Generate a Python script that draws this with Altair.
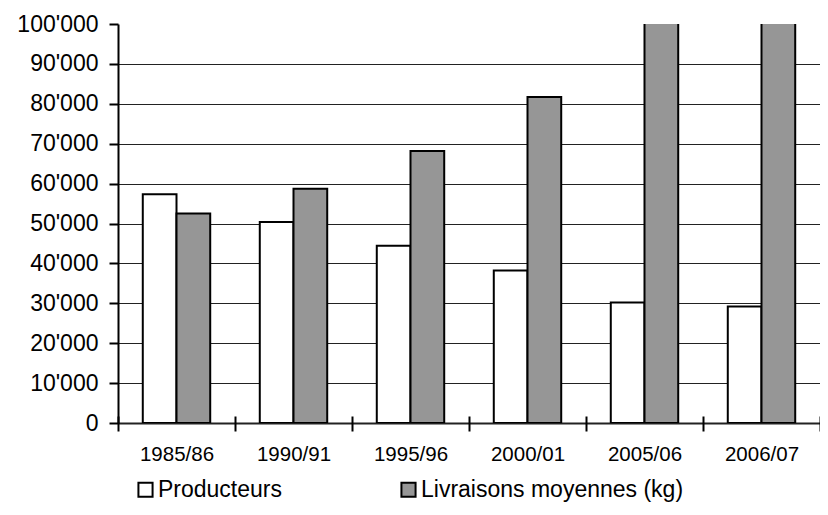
import altair as alt
import pandas as pd

categories = ["1985/86", "1990/91", "1995/96", "2000/01", "2005/06", "2006/07"]
producteurs = [57300, 50400, 44400, 38200, 30200, 29200]
livraisons = [52500, 58700, 68200, 81700, 107000, 111000]
series = ["Producteurs", "Livraisons moyennes (kg)"]
colors = ["white", "#969696"]
y_ticks = [0, 10000, 20000, 30000, 40000, 50000, 60000, 70000, 80000, 90000, 100000]

rows = []
for c, p, l in zip(categories, producteurs, livraisons):
    rows.append({"cat": c, "serie": series[0], "val": p})
    rows.append({"cat": c, "serie": series[1], "val": l})
df = pd.DataFrame(rows)

FONT = "Liberation Sans"

chart = alt.Chart(df).mark_bar(
    stroke="black", strokeWidth=2, clip=True
).encode(
    x=alt.X("cat:N", sort=categories, title=None,
            scale=alt.Scale(paddingInner=0, paddingOuter=0),
            axis=alt.Axis(labelAngle=0, domain=False, tickBand="extent",
                          tickSize=15, offset=-7, tickColor="black", tickWidth=2,
                          labelFontSize=20.5, labelColor="black", labelFont=FONT,
                          labelPadding=13, grid=False)),
    xOffset=alt.XOffset("serie:N", sort=series,
                        scale=alt.Scale(paddingInner=0, paddingOuter=0.735)),
    y=alt.Y("val:Q", title=None,
            scale=alt.Scale(domain=[0, 100000], nice=False),
            axis=alt.Axis(values=y_ticks,
                          labelExpr="datum.value == 0 ? '0' : (datum.value / 1000) + \"'000\"",
                          labelFontSize=23, labelColor="black", labelFont=FONT,
                          labelPadding=11, tickSize=9, tickColor="black", tickWidth=2,
                          domainColor="black", domainWidth=2,
                          grid=True,
                          gridColor="#222222",
                          gridWidth={"condition": {"test": "datum.value == 0", "value": 2}, "value": 1},
                          gridOpacity={"condition": {"test": "datum.value >= 100000", "value": 0}, "value": 1})),
    fill=alt.Fill("serie:N", sort=series,
                  scale=alt.Scale(domain=series, range=colors),
                  legend=alt.Legend(title=None, orient="none", legendX=16, legendY=454,
                                    direction="horizontal", symbolType="square",
                                    symbolSize=200, symbolStrokeColor="black",
                                    symbolStrokeWidth=2, symbolOpacity=1,
                                    labelFontSize=23, labelFont=FONT, labelColor="black",
                                    labelOffset=1, labelLimit=500,
                                    columnPadding=114, padding=0)),
).properties(
    width=702, height=399, autosize="none",
    padding={"left": 110, "top": 16, "right": 0, "bottom": 84},
).configure_view(stroke=None)

chart.save("out.html", embed_options={"renderer": "svg", "actions": False})
